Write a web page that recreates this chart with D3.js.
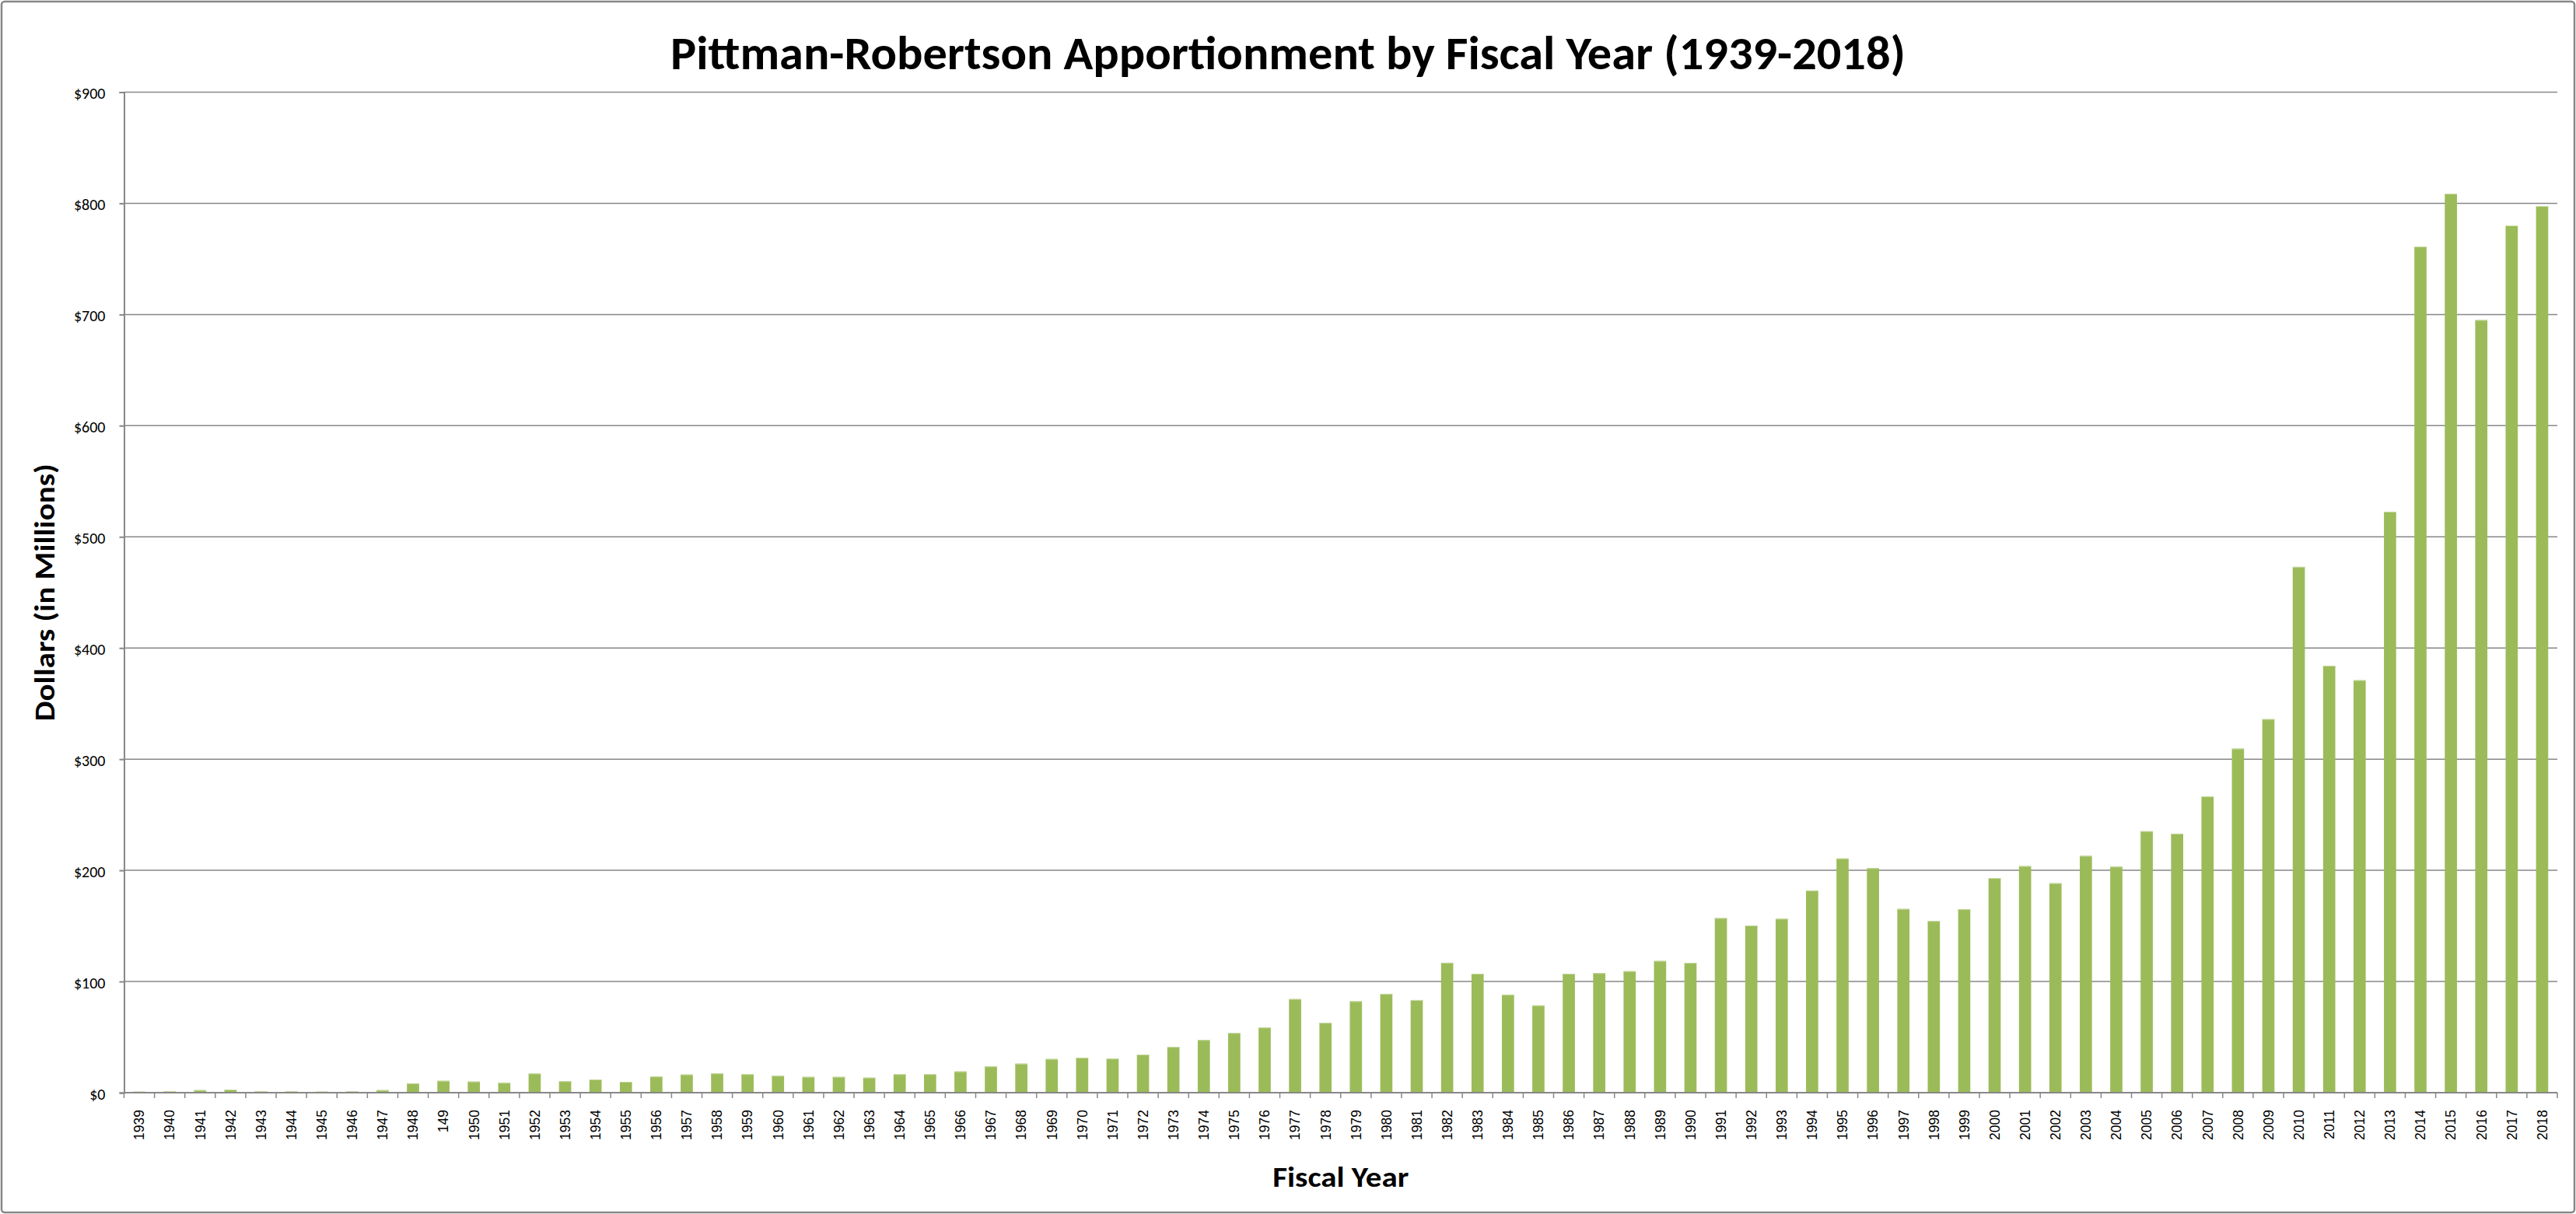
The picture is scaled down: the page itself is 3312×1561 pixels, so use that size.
<!DOCTYPE html>
<html>
<head>
<meta charset="utf-8">
<script src="https://cdn.jsdelivr.net/npm/d3@7"></script>
<style>
  html, body { margin: 0; padding: 0; background: #fff; }
  svg { display: block; }
</style>
</head>
<body>
<script>
const categories = ["1939","1940","1941","1942","1943","1944","1945","1946","1947","1948",
  "149","1950","1951","1952","1953","1954","1955","1956","1957","1958",
  "1959","1960","1961","1962","1963","1964","1965","1966","1967","1968",
  "1969","1970","1971","1972","1973","1974","1975","1976","1977","1978",
  "1979","1980","1981","1982","1983","1984","1985","1986","1987","1988",
  "1989","1990","1991","1992","1993","1994","1995","1996","1997","1998",
  "1999","2000","2001","2002","2003","2004","2005","2006","2007","2008",
  "2009","2010","2011","2012","2013","2014","2015","2016","2017","2018"];
const values = [0.9,1.4,2.3,2.8,1.4,1.1,0.9,1.1,2.3,8.4,
  10.7,10.0,8.9,17.2,10.3,11.9,9.8,14.5,16.3,17.3,
  16.6,15.2,14.2,14.2,13.5,16.6,16.6,19.1,23.6,26.1,
  30.3,31.5,30.6,34.3,41.1,47.4,53.7,58.6,84.2,62.8,
  82.2,88.9,83.3,116.9,107.0,88.2,78.5,107.0,107.6,109.3,
  118.5,116.8,157.0,150.4,156.4,181.8,210.7,202.0,165.3,154.4,
  165.0,193.0,203.8,188.4,213.0,203.3,235.2,233.0,266.5,309.5,
  336.0,473.0,384.0,371.0,522.6,761.0,808.7,695.0,780.0,797.5];
const yTicks = [0,100,200,300,400,500,600,700,800,900];
const yTickLabels = ["$0","$100","$200","$300","$400","$500","$600","$700","$800","$900"];
const titleText = "Pittman-Robertson Apportionment by Fiscal Year (1939-2018)";
const xTitle = "Fiscal Year";
const yTitle = "Dollars (in Millions)";

const W = 3312, H = 1561;
const plotL = 159.5, plotR = 3288, plotT = 118.5, plotB = 1405;
const grey = "#878787";
const calibri = "Carlito, Calibri, Lato, 'Open Sans', sans-serif";

const svg = d3.select("body").append("svg").attr("width", W).attr("height", H);

svg.append("rect").attr("x", 2).attr("y", 2).attr("width", W - 4).attr("height", H - 4)
  .attr("rx", 4).attr("fill", "#fff").attr("stroke", grey).attr("stroke-width", 2.5);

const x = d3.scaleBand().domain(categories).range([plotL, plotR]).paddingInner(0.6).paddingOuter(0.3);
const y = d3.scaleLinear().domain([0, 900]).range([plotB, plotT]);

// gridlines
svg.append("g").selectAll("line").data(yTicks.filter(d => d > 0)).join("line")
  .attr("x1", plotL).attr("x2", plotR)
  .attr("y1", d => y(d)).attr("y2", d => y(d))
  .attr("stroke", grey).attr("stroke-width", 1.5);

// bars
svg.append("g").selectAll("rect").data(categories).join("rect")
  .attr("x", (d) => x(d))
  .attr("width", x.bandwidth())
  .attr("y", (d, i) => y(values[i]))
  .attr("height", (d, i) => y(0) - y(values[i]))
  .attr("fill", "#9BBB59");
svg.append("g").selectAll("line").data(categories).join("line")
  .attr("x1", d => x(d)).attr("x2", d => x(d) + x.bandwidth())
  .attr("y1", (d, i) => y(values[i]) + 0.5).attr("y2", (d, i) => y(values[i]) + 0.5)
  .attr("stroke", "#c6d9a0").attr("stroke-width", 1);

// y axis
const yAxis = d3.axisLeft(y).tickValues(yTicks).tickSize(6).tickPadding(18)
  .tickFormat((d, i) => yTickLabels[i]);
const gy = svg.append("g").attr("transform", `translate(${plotL},0)`).call(yAxis);
gy.select(".domain").attr("stroke", grey).attr("stroke-width", 2);
gy.selectAll(".tick line").attr("stroke", grey).attr("stroke-width", 2);
gy.selectAll(".tick text").attr("font-family", calibri).attr("font-size", 20)
  .attr("fill", "#000").attr("dy", "0.42em");

// x axis line
svg.append("line").attr("x1", plotL).attr("x2", plotR).attr("y1", plotB).attr("y2", plotB)
  .attr("stroke", grey).attr("stroke-width", 2.2);
// category boundary ticks
const step = x.step();
svg.append("g").selectAll("line").data(categories.concat(["__end"])).join("line")
  .attr("x1", (d, i) => i < categories.length ? x(d) - step * 0.3 : plotR)
  .attr("x2", (d, i) => i < categories.length ? x(d) - step * 0.3 : plotR)
  .attr("y1", plotB).attr("y2", plotB + 7)
  .attr("stroke", grey).attr("stroke-width", 1.5);

// x labels
svg.append("g").selectAll("text").data(categories).join("text")
  .attr("transform", d => `translate(${x(d) + x.bandwidth() / 2},${plotB + 22}) rotate(-90)`)
  .attr("text-anchor", "end").attr("dy", "0.36em")
  .attr("font-family", "'Liberation Sans', Arial, sans-serif").attr("font-size", 17.5)
  .attr("fill", "#000").text(d => d);

// title
svg.append("text").attr("x", W / 2).attr("y", 89).attr("text-anchor", "middle")
  .attr("font-family", calibri).attr("font-weight", "bold").attr("font-size", 60)
  .attr("textLength", 1588).attr("lengthAdjust", "spacingAndGlyphs")
  .attr("fill", "#000").text(titleText);

// x title
svg.append("text").attr("x", (plotL + plotR) / 2).attr("y", 1526).attr("text-anchor", "middle")
  .attr("font-family", calibri).attr("font-weight", "bold").attr("font-size", 37)
  .attr("textLength", 175).attr("lengthAdjust", "spacingAndGlyphs")
  .attr("fill", "#000").text(xTitle);

// y title
svg.append("text").attr("transform", `translate(70,${(plotT + plotB) / 2}) rotate(-90)`)
  .attr("text-anchor", "middle")
  .attr("font-family", calibri).attr("font-weight", "bold").attr("font-size", 37)
  .attr("textLength", 331).attr("lengthAdjust", "spacingAndGlyphs")
  .attr("fill", "#000").text(yTitle);
</script>
</body>
</html>
